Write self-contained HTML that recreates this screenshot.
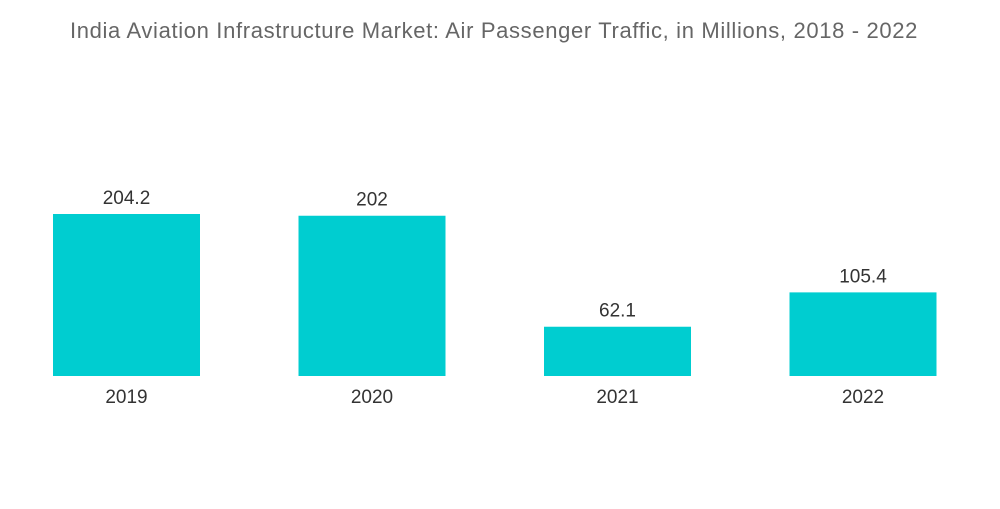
<!DOCTYPE html>
<html>
<head>
<meta charset="utf-8">
<style>
  html, body { margin: 0; padding: 0; background: #fff; }
  body { width: 1000px; height: 504px; overflow: hidden; font-family: "Liberation Sans", sans-serif; }
  svg text { font-family: "Liberation Sans", sans-serif; }
</style>
</head>
<body>
<svg id="chart" width="1000" height="504" viewBox="0 0 1000 504" xmlns="http://www.w3.org/2000/svg">
  <text x="494" y="38" text-anchor="middle" font-size="22" letter-spacing="0.65" fill="#666">India Aviation Infrastructure Market: Air Passenger Traffic, in Millions, 2018 - 2022</text>
  <g id="bars"></g>
</svg>
<script>
const categories = ["2019", "2020", "2021", "2022"];
const values = [204.2, 202, 62.1, 105.4];
const valueLabels = ["204.2", "202", "62.1", "105.4"];

const baseY = 376, pxPerUnit = 162 / 204.2;
const firstX = 53, step = 245.5, barW = 147;
function xPos(i) { return firstX + i * step; }
function yPos(v) { return baseY - v * pxPerUnit; }

const g = document.getElementById('bars');
const ns = 'http://www.w3.org/2000/svg';
categories.forEach((c, i) => {
  const v = values[i];
  const r = document.createElementNS(ns, 'rect');
  r.setAttribute('x', xPos(i));
  r.setAttribute('y', yPos(v));
  r.setAttribute('width', barW);
  r.setAttribute('height', baseY - yPos(v));
  r.setAttribute('fill', '#00cdd0');
  
  
  g.appendChild(r);

  const t = document.createElementNS(ns, 'text');
  t.setAttribute('x', xPos(i) + barW / 2);
  t.setAttribute('y', yPos(v) - 10);
  t.setAttribute('text-anchor', 'middle');
  t.setAttribute('font-size', '19');
  t.setAttribute('fill', '#333');
  t.textContent = valueLabels[i];
  
  
  g.appendChild(t);

  const l = document.createElementNS(ns, 'text');
  l.setAttribute('x', xPos(i) + barW / 2);
  l.setAttribute('y', 403);
  l.setAttribute('text-anchor', 'middle');
  l.setAttribute('font-size', '19');
  l.setAttribute('fill', '#333');
  l.textContent = c;
  
  
  g.appendChild(l);
});
</script>
</body>
</html>
